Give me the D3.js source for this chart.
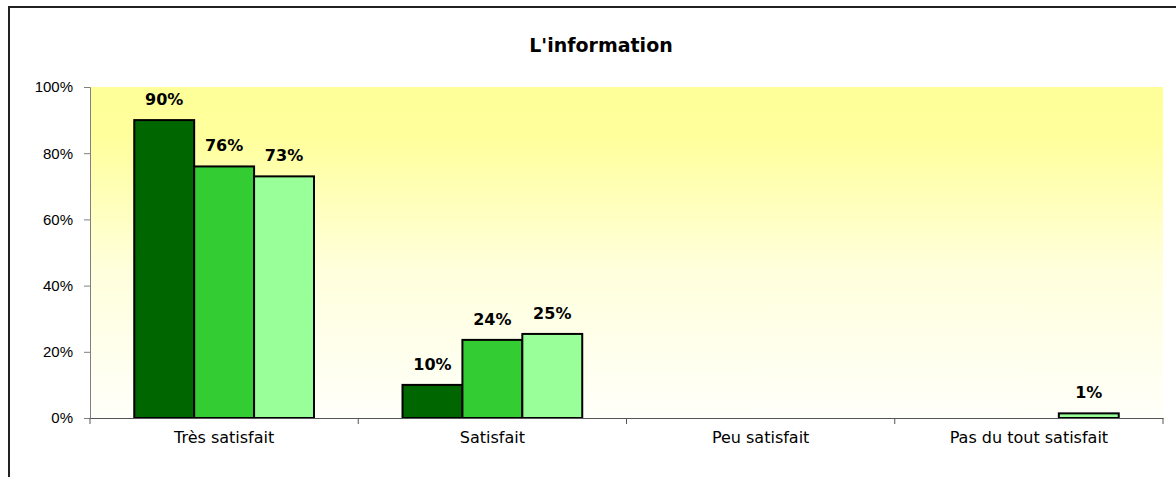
<!DOCTYPE html>
<html>
<head>
<meta charset="utf-8">
<script src="https://cdn.jsdelivr.net/npm/d3@7"></script>
<style>
  body { margin: 0; background: #fff; }
  svg { display: block; font-family: "DejaVu Sans", Verdana, sans-serif; }
</style>
</head>
<body>
<div id="chart"></div>
<script>
const categories = ["Très satisfait", "Satisfait", "Peu satisfait", "Pas du tout satisfait"];
const seriesNames = ["s1", "s2", "s3"];
const series1 = [90, 10, 0, 0];
const series2 = [76, 23.6, 0, 0];
const series3 = [73, 25.4, 0, 1.4];
const yTicks = [0, 20, 40, 60, 80, 100];
const colors = ["#006600", "#33cc33", "#99ff99"];

const width = 1176, height = 477;
const margin = { top: 87, left: 90, right: 13, bottom: 59 };

const svg = d3.select("#chart").append("svg")
    .attr("width", width)
    .attr("height", height);

// outer frame (only top and left are visible in the picture)
svg.append("path")
    .attr("d", `M9,${height} L9,7 L${width},7`)
    .attr("fill", "none")
    .attr("stroke", "#222")
    .attr("stroke-width", 2);

svg.append("text")
    .attr("x", 601)
    .attr("y", 52)
    .attr("text-anchor", "middle")
    .style("font-size", "19px")
    .style("font-weight", "bold")
    .text("L'information");

const x = d3.scaleBand()
    .domain(categories)
    .range([margin.left, width - margin.right]);

const y = d3.scaleLinear()
    .domain([0, 100])
    .range([height - margin.bottom, margin.top]);

const inner = d3.scaleBand()
    .domain(seriesNames)
    .range([0, x.bandwidth() * 0.67]);

const defs = svg.append("defs");
const grad = defs.append("linearGradient")
    .attr("id", "bg")
    .attr("x1", 0).attr("y1", 0).attr("x2", 0).attr("y2", 1);
grad.append("stop").attr("offset", "0%").attr("stop-color", "#ffff99");
grad.append("stop").attr("offset", "15%").attr("stop-color", "#ffff9c");
grad.append("stop").attr("offset", "55%").attr("stop-color", "#ffffdc");
grad.append("stop").attr("offset", "100%").attr("stop-color", "#fffffa");

svg.append("rect")
    .attr("x", margin.left)
    .attr("y", y(100))
    .attr("width", width - margin.right - margin.left)
    .attr("height", y(0) - y(100))
    .attr("fill", "url(#bg)");

const data = categories.map((c, i) => ({
    cat: c,
    values: [series1[i], series2[i], series3[i]]
}));

const groups = svg.selectAll(".group")
    .data(data)
    .enter()
    .append("g")
    .attr("class", "group")
    .attr("transform", (d) => `translate(${x(d.cat) + x.bandwidth() * 0.165}, 0)`);

groups.selectAll("rect")
    .data((d) => d.values.map((v, j) => ({ v, s: seriesNames[j], j })).filter((e) => e.v > 0))
    .enter()
    .append("rect")
    .attr("x", (d) => inner(d.s))
    .attr("y", (d) => y(d.v))
    .attr("width", inner.bandwidth())
    .attr("height", (d) => y(0) - y(d.v))
    .attr("fill", (d) => colors[d.j])
    .attr("stroke", "#000")
    .attr("stroke-width", 2);

groups.selectAll("text")
    .data((d) => d.values.map((v, j) => ({ v, s: seriesNames[j] })).filter((e) => e.v > 0))
    .enter()
    .append("text")
    .attr("x", (d) => inner(d.s) + inner.bandwidth() / 2)
    .attr("y", (d) => y(d.v) - 15)
    .attr("text-anchor", "middle")
    .style("font-size", "16px")
    .style("font-weight", "bold")
    .text((d) => Math.round(d.v) + "%");

// y axis
const yAxis = svg.append("g")
    .attr("transform", `translate(${margin.left}, 0)`)
    .call(d3.axisLeft(y).tickValues(yTicks).tickSize(6).tickPadding(11).tickFormat((d) => d + "%"));
yAxis.select(".domain").attr("stroke", "#808080");
yAxis.selectAll(".tick line").attr("stroke", "#808080");
yAxis.selectAll(".tick text")
    .style("font-size", "15px")
    .style("font-family", "Liberation Sans, Arial, sans-serif")
    .attr("fill", "#000");

// x axis
const xAxis = svg.append("g")
    .attr("transform", `translate(0, ${y(0)})`)
    .call(d3.axisBottom(x).tickSize(0).tickPadding(14));
xAxis.select(".domain").attr("stroke", "#555");
xAxis.selectAll(".tick text")
    .style("font-size", "16px")
    .style("font-family", "DejaVu Sans, sans-serif")
    .attr("fill", "#000");

// category separators on x axis
const sepPos = [margin.left].concat(categories.slice(1).map((c) => x(c)), [width - margin.right]);
xAxis.selectAll(".sep")
    .data(sepPos)
    .enter()
    .append("line")
    .attr("class", "sep")
    .attr("x1", (d) => d)
    .attr("x2", (d) => d)
    .attr("y1", 0)
    .attr("y2", 6)
    .attr("stroke", "#555");
</script>
</body>
</html>
